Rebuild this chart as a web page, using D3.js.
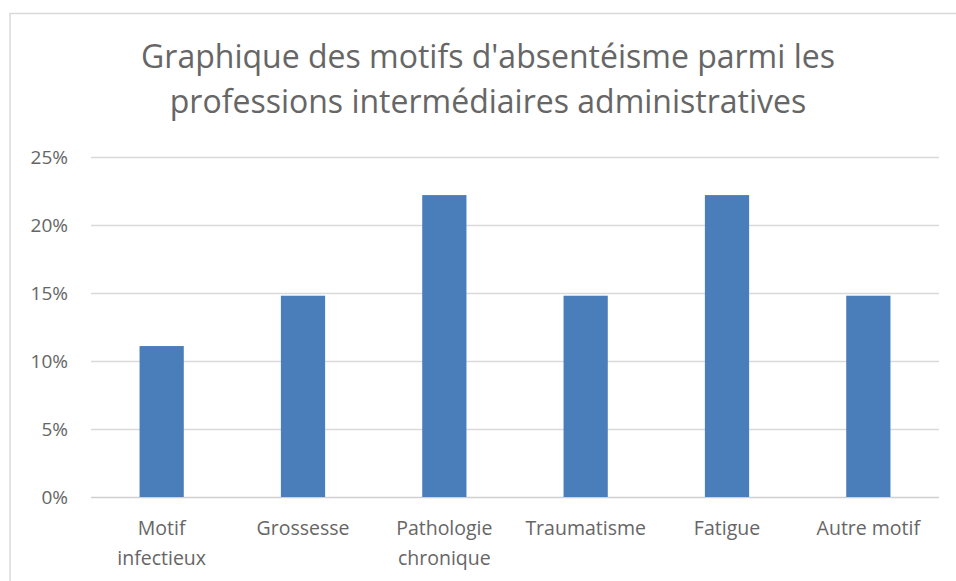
<!DOCTYPE html>
<html>
<head>
<meta charset="utf-8">
<script src="https://cdn.jsdelivr.net/npm/d3@7"></script>
<style>
  body { margin: 0; background: #fff; }
  text { font-family: "Open Sans", sans-serif; fill: #666; }
</style>
</head>
<body>
<script>

var categories = [["Motif", "infectieux"], ["Grossesse"], ["Pathologie", "chronique"], ["Traumatisme"], ["Fatigue"], ["Autre motif"]];
var values = [0.111, 0.148, 0.222, 0.148, 0.222, 0.148];
var ticks = [0, 0.05, 0.10, 0.15, 0.20, 0.25];
var titleLines = ["Graphique des motifs d'absentéisme parmi les", "professions intermédiaires administratives"];

var width = 956, height = 581;
var plotLeft = 91, plotRight = 939, plotTop = 157, plotBottom = 497;

var svg = d3.select("body").append("svg")
    .attr("width", width)
    .attr("height", height);

// chart frame (right / bottom sides run off the picture)
svg.append("rect")
    .attr("x", 10).attr("y", 13.5)
    .attr("width", 960).attr("height", 600)
    .attr("fill", "#fff")
    .attr("stroke", "#d9d9d9")
    .attr("stroke-width", 1.5);

// title
svg.append("g").selectAll("text")
    .data(titleLines)
    .enter().append("text")
    .attr("x", 488)
    .attr("y", function(d, i) { return 68 + i * 45; })
    .attr("text-anchor", "middle")
    .attr("font-size", "32px")
    .text(function(d) { return d; });

var x = d3.scaleBand()
    .domain(d3.range(categories.length))
    .range([plotLeft, plotRight])
    .paddingInner(0.687)
    .paddingOuter(0.3435);

var y = d3.scaleLinear()
    .domain([0, 0.25])
    .range([plotBottom, plotTop]);

// gridlines
svg.append("g").selectAll("line")
    .data(ticks)
    .enter().append("line")
    .attr("x1", plotLeft).attr("x2", plotRight)
    .attr("y1", function(d) { return Math.round(y(d)) + 0.5; })
    .attr("y2", function(d) { return Math.round(y(d)) + 0.5; })
    .attr("stroke", function(d) { return d === 0 ? "#d0d0d0" : "#d9d9d9"; })
    .attr("stroke-width", 1.5);

// y labels
var yAxis = d3.axisLeft(y)
    .tickValues(ticks)
    .tickFormat(d3.format(".0%"))
    .tickSize(0)
    .tickPadding(23);

svg.append("g")
    .attr("transform", "translate(" + plotLeft + ",0)")
    .call(yAxis)
    .call(function(g) { g.select(".domain").remove(); })
    .selectAll("text")
    .attr("font-size", "19px")
    .attr("fill", "#666")
    .attr("font-family", "Open Sans, sans-serif");

// bars
svg.append("g").selectAll("rect")
    .data(values)
    .enter().append("rect")
    .attr("x", function(d, i) { return x(i); })
    .attr("width", x.bandwidth())
    .attr("y", function(d) { return y(d); })
    .attr("height", function(d) { return y(0) - y(d); })
    .attr("fill", "#4a7ebb");

// x labels
var xl = svg.append("g").selectAll("text")
    .data(categories)
    .enter().append("text")
    .attr("text-anchor", "middle")
    .attr("font-size", "19.5px")
    .attr("x", function(d, i) { return x(i) + x.bandwidth() / 2; })
    .attr("y", 535);

xl.selectAll("tspan")
    .data(function(d) { return d; })
    .enter().append("tspan")
    .attr("x", function() { return d3.select(this.parentNode).attr("x"); })
    .attr("dy", function(d, i) { return i === 0 ? 0 : 30; })
    .text(function(d) { return d; });

</script>
</body>
</html>
